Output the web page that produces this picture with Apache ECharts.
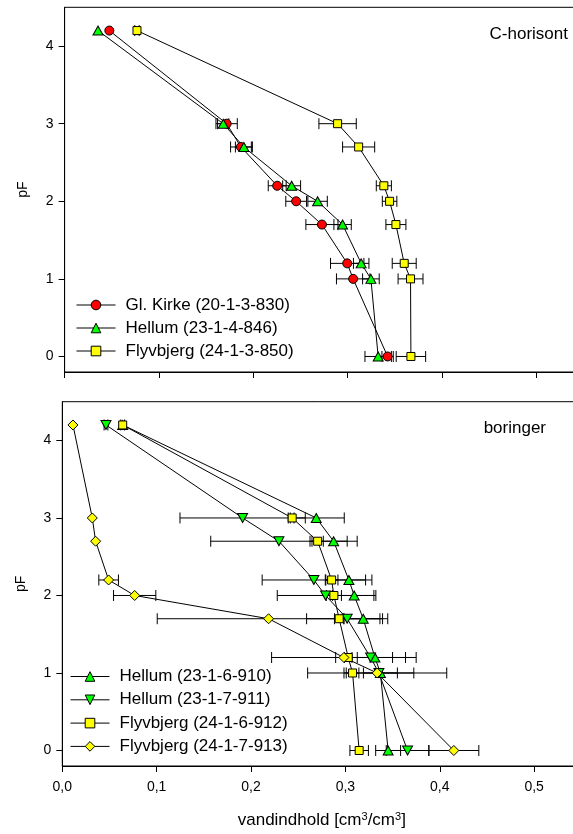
<!DOCTYPE html>
<html>
<head>
<meta charset="utf-8">
<script src="https://cdn.jsdelivr.net/npm/echarts@6/dist/echarts.min.js"></script>
<style>
  html, body { margin: 0; padding: 0; background: #fff; }
  #chart { width: 573px; height: 834px; }
</style>
</head>
<body>
<div id="chart"></div>
<script>
// pF levels, shared by every retention curve (top to bottom)
const pF = [4.2, 3, 2.7, 2.2, 2, 1.7, 1.2, 1, 0];

// Upper panel: C-horisont
const glKirke830 = [0.0474, 0.1717, 0.1869, 0.2253, 0.2454, 0.2727, 0.2995, 0.3058, 0.3423];
const glKirke830Err = [0, 0.0113, 0.011, 0.0095, 0.011, 0.017, 0.0177, 0.0177, 0.006];
const hellum846 = [0.0354, 0.1681, 0.19, 0.2406, 0.2681, 0.2946, 0.3143, 0.3246, 0.3323];
const hellum846Err = [0, 0.006, 0.009, 0.0095, 0.0103, 0.0092, 0.0082, 0.0088, 0.014];
const flyvbjerg850 = [0.0767, 0.2893, 0.3116, 0.3383, 0.3444, 0.3511, 0.3599, 0.3666, 0.367];
const flyvbjerg850Err = [0.0023, 0.0198, 0.017, 0.008, 0.0077, 0.0106, 0.0127, 0.0132, 0.0156];

// Lower panel: boringer
const hellum910 = [0.064, 0.2691, 0.2875, 0.3037, 0.3093, 0.3189, 0.3313, 0.3371, 0.3453];
const hellum910Err = [0, 0.0297, 0.025, 0.0244, 0.023, 0.0205, 0.0187, 0.018, 0.0132];
const hellum911 = [0.0463, 0.1911, 0.2296, 0.2666, 0.279, 0.3019, 0.3267, 0.3355, 0.3659];
const hellum911Err = [0.002, 0.0664, 0.0723, 0.0548, 0.0512, 0.043, 0.037, 0.037, 0.0226];
const flyvbjerg912 = [0.064, 0.2436, 0.2706, 0.2854, 0.2878, 0.2934, 0.303, 0.3076, 0.3146];
const flyvbjerg912Err = [0.002, 0.002, 0.006, 0.0067, 0.008, 0.005, 0.004, 0.0067, 0.0098];
const flyvbjerg913 = [0.0113, 0.0318, 0.0353, 0.0491, 0.0767, 0.2186, 0.2984, 0.3337, 0.4149];
const flyvbjerg913Err = [0, 0, 0, 0.0104, 0.0224, 0.118, 0.0766, 0.0737, 0.0265];

// Axis ticks
const xTicks = [0, 0.1, 0.2, 0.3, 0.4, 0.5];
const yTicks = [0, 1, 2, 3, 4];

const FONT = 'Liberation Sans, Arial, sans-serif';

const chart = echarts.init(document.getElementById('chart'), null, { renderer: 'canvas' });

function errorBars(params, api) {
  const x = api.value(0), y = api.value(1), e = api.value(2);
  if (!e) return { type: 'group', children: [] };
  const a = api.coord([x - e, y]);
  const b = api.coord([x + e, y]);
  const h = 5.5;
  const st = { stroke: '#000', lineWidth: 1 };
  return {
    type: 'group',
    children: [
      { type: 'line', shape: { x1: a[0], y1: a[1], x2: b[0], y2: b[1] }, style: st },
      { type: 'line', shape: { x1: a[0], y1: a[1] - h, x2: a[0], y2: a[1] + h }, style: st },
      { type: 'line', shape: { x1: b[0], y1: b[1] - h, x2: b[0], y2: b[1] + h }, style: st }
    ]
  };
}

function pairs(vals) { return vals.map((v, i) => [v, pF[i]]); }
function triples(vals, errs) { return vals.map((v, i) => [v, pF[i], errs[i]]); }

function curve(name, vals, errs, panel, symbol, size, color, rotate) {
  return [
    {
      type: 'custom', name: name + ' err', xAxisIndex: panel, yAxisIndex: panel,
      renderItem: errorBars, data: triples(vals, errs), encode: { x: 0, y: 1 },
      z: 2, silent: true, animation: false
    },
    {
      type: 'line', name: name, xAxisIndex: panel, yAxisIndex: panel,
      data: pairs(vals), symbol: symbol, symbolSize: size, symbolRotate: rotate || 0,
      showAllSymbol: true,
      itemStyle: { color: color, borderColor: '#000', borderWidth: 1 },
      lineStyle: { color: '#000', width: 1 },
      emphasis: { disabled: true },
      z: 3, animation: false
    }
  ];
}

function xAxis(gridIndex, withLabels) {
  return {
    type: 'value', gridIndex: gridIndex, min: 0, max: 0.55,
    axisLine: { show: true, onZero: false, lineStyle: { color: '#000', width: 1 } },
    axisTick: { show: true, length: 6, customValues: xTicks, lineStyle: { color: '#000' } },
    axisLabel: {
      show: withLabels, customValues: xTicks, margin: 14,
      color: '#000', fontFamily: FONT, fontSize: 14,
      formatter: v => v.toFixed(1).replace('.', ',')
    },
    splitLine: { show: false },
    name: withLabels ? 'vandindhold [cm{sup|3}/cm{sup|3}]' : '',
    nameLocation: 'middle', nameGap: 45,
    nameTextStyle: {
      color: '#000', fontFamily: FONT, fontSize: 17,
      rich: { sup: { fontSize: 11, verticalAlign: 'top', padding: [0, 0, 8, 0], fontFamily: FONT, color: '#000' } }
    }
  };
}

function yAxis(gridIndex) {
  return {
    type: 'value', gridIndex: gridIndex, min: -0.2, max: 4.5,
    axisLine: { show: true, onZero: false, lineStyle: { color: '#000', width: 1 } },
    axisTick: { show: true, length: 6, customValues: yTicks, lineStyle: { color: '#000' } },
    axisLabel: {
      customValues: yTicks, margin: 11,
      color: '#000', fontFamily: FONT, fontSize: 14
    },
    splitLine: { show: false },
    name: 'pF', nameLocation: 'middle', nameGap: 34,
    nameTextStyle: { color: '#000', fontFamily: FONT, fontSize: 14 }
  };
}

const legendText = { color: '#000', fontFamily: FONT, fontSize: 17, padding: [0, 0, 0, 5] };
const legendCommon = {
  orient: 'vertical', padding: 0, itemWidth: 39, itemHeight: 12,
  textStyle: legendText, selectedMode: false,
  lineStyle: { width: 1, color: '#000' },
  itemStyle: { borderWidth: 1, borderColor: '#000' }
};

const option = {
  backgroundColor: '#fff',
  animation: false,
  title: [
    { text: 'C-horisont', right: 5, top: 26, padding: 0,
      textStyle: { color: '#000', fontFamily: FONT, fontSize: 17, fontWeight: 'normal' } },
    { text: 'boringer', right: 27, top: 420, padding: 0,
      textStyle: { color: '#000', fontFamily: FONT, fontSize: 17, fontWeight: 'normal' } }
  ],
  grid: [
    { left: 64.6, top: 7.3, width: 519, height: 364.7, show: true, borderColor: '#000', borderWidth: 1,
      containLabel: false, outerBoundsMode: 'none' },
    { left: 62.3, top: 401.7, width: 519, height: 364.3, show: true, borderColor: '#000', borderWidth: 1,
      containLabel: false, outerBoundsMode: 'none' }
  ],
  xAxis: [xAxis(0, false), xAxis(1, true)],
  yAxis: [yAxis(0), yAxis(1)],
  legend: [
    Object.assign({}, legendCommon, {
      data: ['Gl. Kirke (20-1-3-830)', 'Hellum (23-1-4-846)', 'Flyvbjerg (24-1-3-850)'],
      left: 76, top: 296.5, itemGap: 6
    }),
    Object.assign({}, legendCommon, {
      data: ['Hellum (23-1-6-910)', 'Hellum (23-1-7-911)', 'Flyvbjerg (24-1-6-912)', 'Flyvbjerg (24-1-7-913)'],
      left: 70, top: 668, itemGap: 6.3
    })
  ],
  series: [].concat(
    curve('Gl. Kirke (20-1-3-830)', glKirke830, glKirke830Err, 0, 'circle', 9, '#ff0000'),
    curve('Hellum (23-1-4-846)', hellum846, hellum846Err, 0, 'triangle', [10, 9], '#00ff00'),
    curve('Flyvbjerg (24-1-3-850)', flyvbjerg850, flyvbjerg850Err, 0, 'rect', 8, '#ffff00'),
    curve('Hellum (23-1-6-910)', hellum910, hellum910Err, 1, 'triangle', [10, 9], '#00ff00'),
    curve('Hellum (23-1-7-911)', hellum911, hellum911Err, 1, 'triangle', [10, 9], '#00ff00', 180),
    curve('Flyvbjerg (24-1-6-912)', flyvbjerg912, flyvbjerg912Err, 1, 'rect', 8, '#ffff00'),
    curve('Flyvbjerg (24-1-7-913)', flyvbjerg913, flyvbjerg913Err, 1, 'diamond', 10, '#ffff00')
  )
};

chart.setOption(option);
</script>
</body>
</html>
